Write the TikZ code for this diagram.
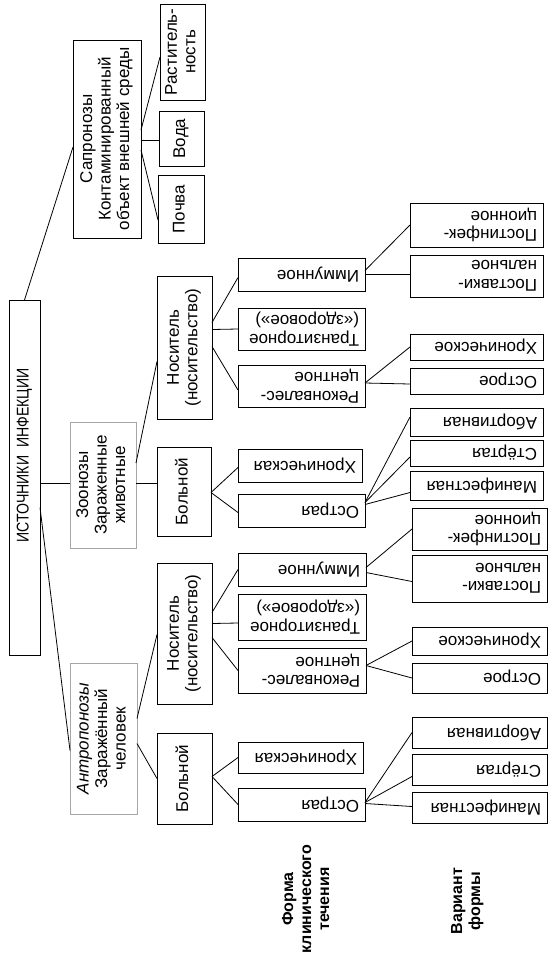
\documentclass[tikz,border=0pt]{standalone}
\usepackage{fontspec}
\setmainfont{Liberation Sans}
\usetikzlibrary{calc}
\tikzset{
  bx/.style={draw=black,line width=0.8pt,inner sep=0pt,outer sep=0pt,font=\fontsize{17}{18.5}\selectfont},
  gbx/.style={bx,draw=black!35,line width=0.6pt},
  lbl/.style={inner sep=0pt,font=\fontsize{16}{18}\selectfont\bfseries},
  conn/.style={line width=0.8pt,black}
}
\newcommand\hb[6]{\node[bx,minimum width={#4pt-#2pt},minimum height={#5pt-#3pt}] (#1) at ({(#2+#4)/2},{(#3+#5)/2}) {\rotatebox{180}{\parbox{\dimexpr#4pt-#2pt-12pt\relax}{\raggedright #6}}};}
\newcommand\vt[1]{\rotatebox{90}{\begin{tabular}{@{}c@{}}#1\end{tabular}}}
\newcommand\vrb[7][bx]{\node[#1,minimum width={#5pt-#3pt},minimum height={#6pt-#4pt}] (#2) at ({(#3+#5)/2},{(#4+#6)/2}) {\vt{#7}};}
\begin{document}
\begin{tikzpicture}[x=1pt,y=-1pt]
\useasboundingbox (0,0) rectangle (555,962);
% level 0
\node[bx,minimum width=31pt,minimum height=355pt] (root) at (24.5,477.5) {\rotatebox{90}{\hspace*{44pt}\scalebox{0.83}[1]{ИСТОЧНИКИ\ \ ИНФЕКЦИИ}}};
% level 1
\vrb{sap}{73}{40}{141}{238}{Сапронозы\\Контаминированный\\объект внешней среды}
\vrb[gbx]{zoo}{70}{422}{136}{548}{Зоонозы\\Зараженные\\животные}
\vrb[gbx]{antr}{70}{663}{137}{814}{\textit{Антропонозы}\\Заражённый\\человек}
% sapronoses children
\vrb{rast}{160}{4}{205}{100}{Раститель-\\ность}
\vrb{voda}{159}{111}{204}{166}{Вода}
\vrb{pochva}{158}{175}{204}{243}{Почва}
% level 2
\vrb{nosZ}{157}{276}{212}{419}{Носитель\\(носительство)}
\vrb{bolZ}{157}{447}{211}{536}{Больной}
\vrb{nosA}{157}{563}{212}{704}{Носитель\\(носительство)}
\vrb{bolA}{157}{733}{212}{824}{Больной}
% level 3 (zoonoses)
\hb{immZ}{238}{258}{365}{291}{Иммунное}
\hb{tranZ}{238}{308}{365}{350}{Транзиторное\\(«здоровое»)}
\hb{rekZ}{238}{365}{365}{407}{Реконвалес-\\центное}
\hb{hrZ}{238}{449}{362}{482}{Хроническая}
\hb{ostZ}{238}{494}{365}{527}{Острая}
% level 3 (anthroponoses)
\hb{immA}{238}{553}{366}{586}{Иммунное}
\hb{tranA}{238}{594}{366}{640}{Транзиторное\\(«здоровое»)}
\hb{rekA}{238}{648}{366}{693}{Реконвалес-\\центное}
\hb{hrA}{238}{742}{363}{773}{Хроническая}
\hb{ostA}{238}{788}{365}{821}{Острая}
% level 4 (zoonoses)
\hb{postinfZ}{410}{203}{543}{247}{Постинфек-\\ционное}
\hb{postvacZ}{410}{255}{543}{297}{Поставки-\\нальное}
\hb{hroZ}{410}{334}{543}{360}{Хроническое}
\hb{ostrZ}{410}{368}{543}{394}{Острое}
\hb{abortZ}{410}{408}{543}{436}{Абортивная}
\hb{stertZ}{410}{440}{543}{466}{Стёртая}
\hb{manifZ}{410}{471}{543}{500}{Манифестная}
% level 4 (anthroponoses)
\hb{postinfA}{412}{508}{547}{550}{Постинфек-\\ционное}
\hb{postvacA}{412}{555}{547}{602}{Поставки-\\нальное}
\hb{hroA}{412}{627}{547}{655}{Хроническое}
\hb{ostrA}{412}{663}{547}{693}{Острое}
\hb{abortA}{412}{717}{547}{748}{Абортивная}
\hb{stertA}{412}{754}{547}{785}{Стёртая}
\hb{manifA}{412}{792}{547}{823}{Манифестная}
% column labels
\node[lbl] (formlbl) at (307.5,899) {\vt{Форма\\клинического\\течения}};
\node[lbl] (varlbl) at (467.5,901) {\vt{Вариант\\формы}};
% connectors
\draw[conn] (root.north) -- ($(sap.west)+(0,8)$);
\draw[conn] ($(root.east)+(0,6)$) -- ($(zoo.west)+(0,-1.5)$);
\draw[conn] ($(root.east)+(0,30)$) -- ($(antr.west)+(0,12)$);
\draw[conn] ($(sap.east)+(0,-9)$) -- ($(rast.west)+(0,5)$);
\draw[conn] ($(sap.east)+(0,1)$) -- ($(voda.west)+(0,1.5)$);
\draw[conn] ($(sap.east)+(0,11)$) -- ($(pochva.west)+(0,11)$);
\draw[conn] ($(zoo.east)+(0,-22)$) -- ($(nosZ.west)+(0,14)$);
\draw[conn] ($(zoo.east)+(0,-2)$) -- ($(bolZ.west)+(0,-8.5)$);
\draw[conn] ($(antr.east)+(0,-20)$) -- ($(nosA.west)+(0,1)$);
\draw[conn] ($(antr.east)+(0,5)$) -- (bolA.west);
\draw[conn] ($(nosZ.east)+(0,-25)$) -- ($(immZ.west)+(0,3)$);
\draw[conn] ($(nosZ.east)+(0,-18)$) -- (tranZ.west);
\draw[conn] ($(nosZ.east)+(0,-1)$) -- ($(rekZ.west)+(0,4)$);
\draw[conn] ($(bolZ.east)+(0,1)$) -- ($(hrZ.west)+(0,2)$);
\draw[conn] ($(bolZ.east)+(0,1)$) -- ($(ostZ.west)+(0,2)$);
\draw[conn] ($(nosA.east)+(0,-21)$) -- (immA.west);
\draw[conn] ($(nosA.east)+(0,-10)$) -- ($(tranA.west)+(0,6)$);
\draw[conn] ($(nosA.east)+(0,4)$) -- (rekA.west);
\draw[conn] ($(bolA.east)+(0,-2)$) -- (hrA.west);
\draw[conn] ($(bolA.east)+(0,-2)$) -- (ostA.west);
\draw[conn] ($(immZ.east)+(0,-4)$) -- (postinfZ.west);
\draw[conn] (immZ.east) -- ($(postvacZ.west)+(0,-1.5)$);
\draw[conn] ($(rekZ.east)+(0,-3)$) -- (hroZ.west);
\draw[conn] ($(rekZ.east)+(0,-3)$) -- ($(ostrZ.west)+(0,3)$);
\draw[conn] ($(ostZ.east)+(0,-8)$) -- ($(abortZ.west)+(0,-5)$);
\draw[conn] ($(ostZ.east)+(0,-8)$) -- ($(stertZ.west)+(0,4)$);
\draw[conn] ($(ostZ.east)+(0,-6)$) -- ($(manifZ.west)+(0,7)$);
\draw[conn] ($(immA.east)+(0,-2)$) -- (postinfA.west);
\draw[conn] ($(immA.east)+(0,3)$) -- ($(postvacA.west)+(0,3)$);
\draw[conn] ($(rekA.east)+(0,-5)$) -- (hroA.west);
\draw[conn] ($(rekA.east)+(0,-5)$) -- (ostrA.west);
\draw[conn] ($(ostA.east)+(0,-2)$) -- (abortA.west);
\draw[conn] ($(ostA.east)+(0,-2)$) -- ($(stertA.west)+(0,7)$);
\draw[conn] ($(ostA.east)+(0,-1)$) -- ($(manifA.west)+(0,-1)$);
\end{tikzpicture}
\end{document}
